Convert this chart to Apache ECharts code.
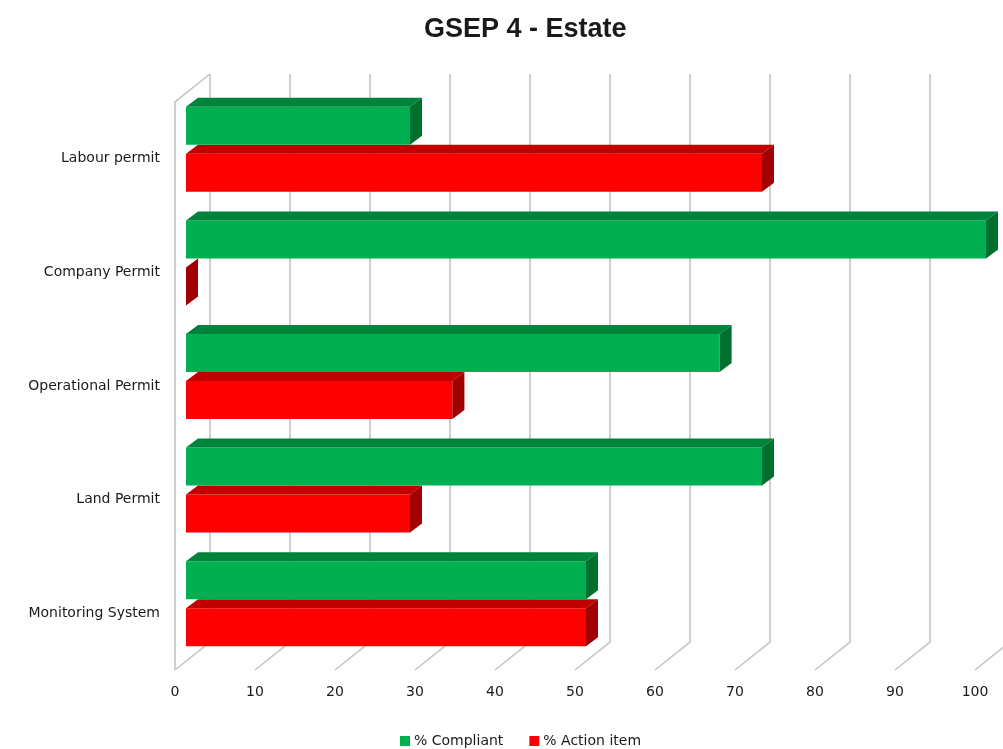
<!DOCTYPE html>
<html>
<head>
<meta charset="utf-8">
<script src="https://cdn.jsdelivr.net/npm/echarts@6/dist/echarts.min.js"></script>
<style>
html,body{margin:0;padding:0;background:#fff;}
#chart{width:1003px;height:749px;}
</style>
</head>
<body>
<div id="chart"></div>
<script>
// ---- data ----
const categories = ['Labour permit', 'Company Permit', 'Operational Permit', 'Land Permit', 'Monitoring System'];
const compliant = [28, 100, 66.7, 72, 50];
const actionItem = [72, 0, 33.3, 28, 50];
const xTicks = [0, 10, 20, 30, 40, 50, 60, 70, 80, 90, 100];
const seriesNames = ['% Compliant', '% Action item'];

// ---- 3D look parameters ----
const WALL_DX = 35, WALL_DY = -28;   // depth of the plot box
const BAR_SHIFT = 11;                // bar front face offset from front plane
const BAR_DX = 12, BAR_DY = 9;       // bar depth
const BAR_H = 38;

function renderGrid(params, api) {
  const cs = params.coordSys;
  const v = api.value(0);
  const x = api.coord([v, 0])[0];
  const top = cs.y, bottom = cs.y + cs.height;
  const lineStyle = { stroke: '#c4c4c4', lineWidth: 1.6, fill: null };
  const children = [{
    type: 'polyline',
    shape: { points: [[x, bottom], [x + WALL_DX, bottom + WALL_DY], [x + WALL_DX, top + WALL_DY]] },
    style: lineStyle
  }];
  if (v === 0) {
    children.push({
      type: 'polyline',
      shape: { points: [[x, bottom], [x, top], [x + WALL_DX, top + WALL_DY]] },
      style: lineStyle
    });
  }
  return { type: 'group', children };
}

function makeBar(offTop, front, topC, side) {
  return function (params, api) {
    const v = api.value(0), c = api.value(1);
    const p0 = api.coord([0, c]), p1 = api.coord([v, c]);
    const x0 = p0[0] + BAR_SHIFT, x1 = p1[0] + BAR_SHIFT;
    const y0 = p0[1] + offTop, y1 = y0 + BAR_H;
    const children = [];
    if (x1 > x0) {
      children.push({ type: 'rect', shape: { x: x0, y: y0, width: x1 - x0, height: BAR_H }, style: { fill: front } });
      children.push({ type: 'polygon', shape: { points: [[x0, y0], [x0 + BAR_DX, y0 - BAR_DY], [x1 + BAR_DX, y0 - BAR_DY], [x1, y0]] }, style: { fill: topC } });
    }
    children.push({ type: 'polygon', shape: { points: [[x1, y0], [x1 + BAR_DX, y0 - BAR_DY], [x1 + BAR_DX, y1 - BAR_DY], [x1, y1]] }, style: { fill: side } });
    return { type: 'group', children };
  };
}

const chart = echarts.init(document.getElementById('chart'), null, { renderer: 'canvas' });
chart.setOption({
  backgroundColor: '#ffffff',
  animation: false,
  title: {
    text: 'GSEP 4 - Estate',
    left: 419, top: 11,
    textStyle: { fontFamily: 'Liberation Sans', fontSize: 27, fontWeight: 'bold', color: '#1a1a1a' }
  },
  legend: {
    data: seriesNames,
    left: 395, top: 729,
    icon: 'rect', itemWidth: 10, itemHeight: 10, itemGap: 26,
    textStyle: { fontFamily: 'DejaVu Sans', fontSize: 14, color: '#1a1a1a', padding: [0, 0, 0, -1] }
  },
  grid: { left: 175, right: 28, top: 102, bottom: 79 },
  xAxis: {
    type: 'value', min: 0, max: 100, interval: 10,
    axisLine: { show: false }, axisTick: { show: false }, splitLine: { show: false },
    axisLabel: { margin: 15, fontFamily: 'DejaVu Sans', fontSize: 14, color: '#1a1a1a' }
  },
  yAxis: {
    type: 'category', inverse: true, data: categories,
    axisLine: { show: false }, axisTick: { show: false }, splitLine: { show: false },
    axisLabel: { margin: 15, fontFamily: 'DejaVu Sans', fontSize: 14, color: '#1a1a1a' }
  },
  series: [
    {
      type: 'custom', name: 'grid', silent: true, z: 1,
      renderItem: renderGrid,
      encode: { x: 0, y: 1 },
      data: xTicks.map(v => [v, 0])
    },
    {
      type: 'custom', name: seriesNames[0], z: 3,
      itemStyle: { color: '#00B050' },
      renderItem: makeBar(-52, '#00B050', '#00833B', '#00702F'),
      encode: { x: 0, y: 1 },
      data: compliant.map((v, i) => [v, i])
    },
    {
      type: 'custom', name: seriesNames[1], z: 2,
      itemStyle: { color: '#FF0000' },
      renderItem: makeBar(-5, '#FF0000', '#C00000', '#A00000'),
      encode: { x: 0, y: 1 },
      data: actionItem.map((v, i) => [v, i])
    }
  ]
});
</script>
</body>
</html>
